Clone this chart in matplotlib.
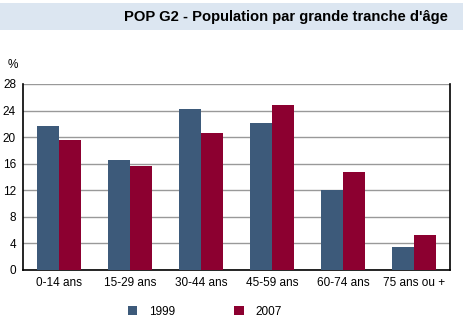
import numpy as np
import matplotlib.pyplot as plt
from matplotlib.patches import Rectangle

plt.rcParams['font.family'] = ['Liberation Sans', 'DejaVu Sans']

# data
categories = ['0-14 ans', '15-29 ans', '30-44 ans', '45-59 ans', '60-74 ans', '75 ans ou +']
pop_1999 = [21.7, 16.6, 24.2, 22.1, 12.0, 3.5]
pop_2007 = [19.5, 15.7, 20.6, 24.8, 14.7, 5.2]
yticks = [0, 4, 8, 12, 16, 20, 24, 28]

blue = '#3d5a7a'
red = '#8c0030'

fig = plt.figure(figsize=(4.63, 3.27), dpi=100)

# title banner
fig.patches.append(Rectangle((0, 1 - 30 / 327), 1, 27 / 327, transform=fig.transFigure,
                             facecolor='#dce6f1', edgecolor='none', zorder=0))
fig.text(448 / 463, 1 - 17 / 327, "POP G2 - Population par grande tranche d'âge",
         ha='right', va='center', fontsize=10.6, fontweight='bold')

ax = fig.add_axes([23 / 463, 57 / 327, 427 / 463, 186 / 327])
x = np.arange(len(categories))
w = 0.31
b1 = ax.bar(x - w / 2, pop_1999, w, color=blue, label='1999', zorder=3)
b2 = ax.bar(x + w / 2, pop_2007, w, color=red, label='2007', zorder=3)

ax.set_xlim(-0.5, len(categories) - 0.5)
ax.set_ylim(0, 28)
ax.set_yticks(yticks)
ax.set_xticks(x)
ax.set_xticklabels(categories)
ax.tick_params(axis='both', length=0, labelsize=8.5)
ax.tick_params(axis='x', pad=5)
ax.tick_params(axis='y', pad=5)
ax.grid(axis='y', color='#999999', linewidth=1, zorder=0)
for s in ['left', 'bottom', 'right']:
    ax.spines[s].set_color('black')
    ax.spines[s].set_linewidth(1.2)
ax.spines['top'].set_visible(False)

fig.text(13 / 463, 1 - 65 / 327, '%', ha='center', va='center', fontsize=8.5)

fig.legend(handles=[b1, b2], loc='center', bbox_to_anchor=(205 / 463, 1 - 312 / 327),
           ncol=2, frameon=False, fontsize=8.5, handlelength=0.8, handleheight=0.8,
           handletextpad=1.0, columnspacing=5.0)

fig.savefig('out.png', dpi=100)
